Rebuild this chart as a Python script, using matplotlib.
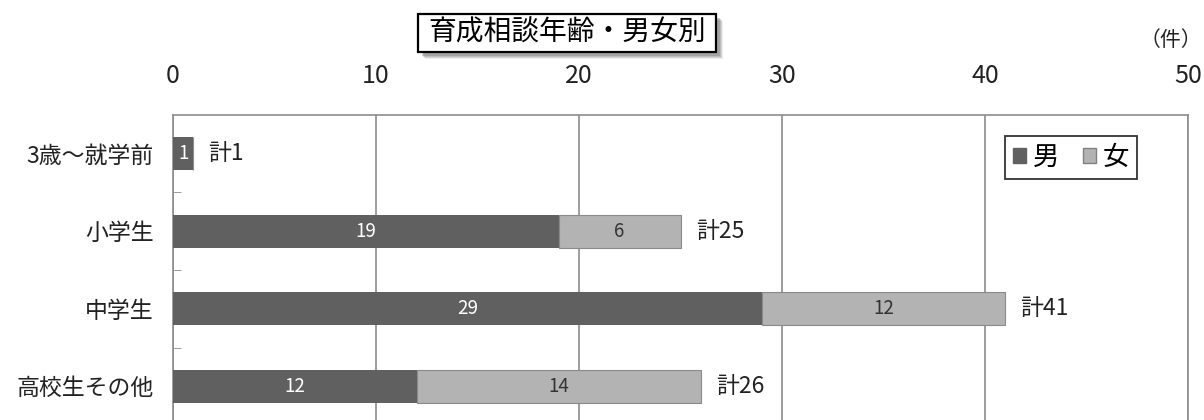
import matplotlib
matplotlib.use('Agg')
import matplotlib.pyplot as plt
import matplotlib.patches as mpatches
import numpy as np

plt.rcParams['font.family'] = ['Noto Sans CJK JP', 'DejaVu Sans']

categories = ['3歳～就学前', '小学生', '中学生', '高校生その他']
male = [1, 19, 29, 12]
female = [0, 6, 12, 14]
totals = [m + f for m, f in zip(male, female)]
xticks = [0, 10, 20, 30, 40, 50]

c_male = '#606060'
c_female = '#b3b3b3'
c_grid = '#8c8c8c'
W, H = 1204, 420

fig = plt.figure(figsize=(12.04, 4.2), dpi=100)
ax = fig.add_axes([173 / W, -5 / H, 1015 / W, 310 / H])

y = np.arange(len(categories))
bh = 0.43
ax.barh(y, male, height=bh, color=c_male, zorder=3)
ax.barh(y, female, left=male, height=bh, color=c_female,
        edgecolor='#8a8a8a', linewidth=0.8, zorder=3)

for i in range(len(categories)):
    if male[i] > 0:
        ax.text(male[i] / 2, y[i], str(male[i]), ha='center', va='center',
                color='white', fontsize=13.5, zorder=4)
    if female[i] > 0:
        ax.text(male[i] + female[i] / 2, y[i], str(female[i]), ha='center',
                va='center', color='#333333', fontsize=13.5, zorder=4)
    ax.text(totals[i] + 0.75, y[i], f'計{totals[i]}', ha='left', va='center',
            color='#222222', fontsize=16.5, zorder=4)

ax.set_xlim(0, 50)
ax.set_ylim(len(categories) - 0.5, -0.5)
ax.set_xticks(xticks)
ax.xaxis.tick_top()
ax.tick_params(axis='x', length=0, pad=19, labelsize=18, colors='#222222')
ax.set_yticks(y)
ax.set_yticklabels(categories, fontsize=16.5, color='#222222')
ax.tick_params(axis='y', which='major', length=0, pad=14)
ax.set_yticks(y[:-1] + 0.5, minor=True)
ax.tick_params(axis='y', which='minor', length=6, direction='in', color=c_grid)
ax.grid(axis='x', color=c_grid, linewidth=1.2, zorder=0)
for s in ax.spines.values():
    s.set_color(c_grid)
    s.set_linewidth(1.2)

# legend box
handles = [mpatches.Patch(facecolor=c_male, edgecolor=c_male, label='男'),
           mpatches.Patch(facecolor=c_female, edgecolor='#808080', label='女')]
leg = ax.legend(handles=handles, ncol=2, loc='upper right',
                bbox_to_anchor=(1137 / W, 1 - 136 / H),
                bbox_transform=fig.transFigure, fontsize=19, frameon=True,
                fancybox=False, handlelength=0.5, handleheight=0.5,
                handletextpad=0.25, columnspacing=0.9, borderpad=0.3,
                borderaxespad=0)
leg.get_frame().set_edgecolor('black')
leg.get_frame().set_linewidth(1.3)

# title box with a soft drop shadow
bx0, by0, bx1, by1 = 418, 14, 716, 52
for k, a in [(7, 0.15), (6, 0.2), (5, 0.3), (4, 0.4)]:
    fig.patches.append(mpatches.Rectangle(
        ((bx0 + k) / W, 1 - (by1 + k) / H), (bx1 - bx0) / W, (by1 - by0) / H,
        transform=fig.transFigure, facecolor='#808080', edgecolor='none', alpha=a))
fig.patches.append(mpatches.Rectangle(
    (bx0 / W, 1 - by1 / H), (bx1 - bx0) / W, (by1 - by0) / H,
    transform=fig.transFigure, facecolor='white', edgecolor='black', linewidth=1.6))
fig.text((bx0 + bx1) / 2 / W, 1 - 33 / H, '育成相談年齢・男女別', ha='center',
         va='center', fontsize=20, color='black')
fig.text(1202 / W, 1 - 40 / H, '（件）', ha='right', va='center', fontsize=15,
         color='#222222')

fig.savefig('out.png', dpi=100)
